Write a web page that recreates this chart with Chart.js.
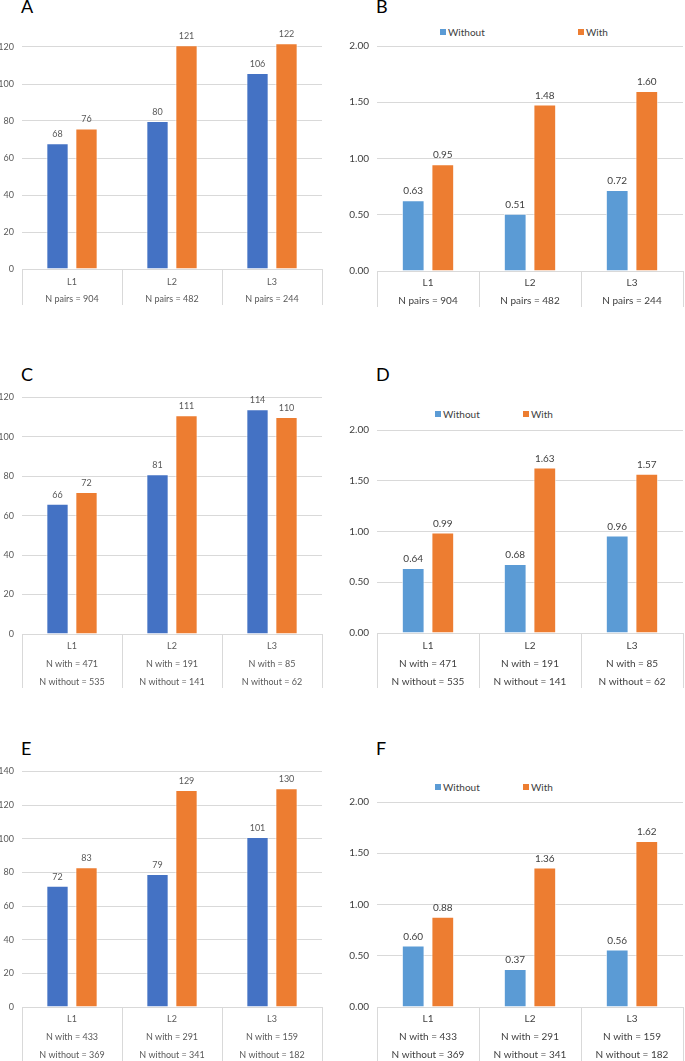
<!DOCTYPE html>
<html>
<head>
<meta charset="utf-8">
<script src="https://cdn.jsdelivr.net/npm/chart.js@4.4.1/dist/chart.umd.min.js"></script>
<style>
  body { margin: 0; background: #fff; }
  #page { position: relative; width: 685px; height: 1061px; overflow: hidden; font-family: Lato, "Open Sans", sans-serif; }
  canvas { position: absolute; }
  .letter { position: absolute; font-size: 18px; line-height: 18px; color: #000; }
  .legend { position: absolute; font-size: 10px; line-height: 12px; color: #404040; white-space: nowrap; }
  .legend i { display: inline-block; width: 6px; height: 6px; margin-right: 2px; vertical-align: 1px; }
</style>
</head>
<body>
<div id="page">
  <div class="letter" style="left:21px;top:-3px">A</div>
  <div class="letter" style="left:376px;top:-3px">B</div>
  <div class="letter" style="left:21px;top:365px">C</div>
  <div class="letter" style="left:376px;top:365px">D</div>
  <div class="letter" style="left:21px;top:739px">E</div>
  <div class="letter" style="left:376px;top:739px">F</div>

  <div class="legend" style="left:440px;top:26px"><i style="background:#5B9BD5"></i>Without</div>
  <div class="legend" style="left:578px;top:26px"><i style="background:#ED7D31"></i>With</div>
  <div class="legend" style="left:435px;top:408px"><i style="background:#5B9BD5"></i>Without</div>
  <div class="legend" style="left:523px;top:408px"><i style="background:#ED7D31"></i>With</div>
  <div class="legend" style="left:435px;top:781px"><i style="background:#5B9BD5"></i>Without</div>
  <div class="legend" style="left:523px;top:781px"><i style="background:#ED7D31"></i>With</div>

  <canvas id="chartA"></canvas>
  <canvas id="chartB"></canvas>
  <canvas id="chartC"></canvas>
  <canvas id="chartD"></canvas>
  <canvas id="chartE"></canvas>
  <canvas id="chartF"></canvas>
</div>

<script>
// categories and sample sizes
const categories = ['L1', 'L2', 'L3'];
const nPairs = [904, 482, 244];
const nWithCD = [471, 191, 85];
const nWithoutCD = [535, 141, 62];
const nWithEF = [433, 291, 159];
const nWithoutEF = [369, 341, 182];

// values
const aWithout = [68, 80, 106];
const aWith = [76, 121, 122];
const bWithout = [0.63, 0.51, 0.72];
const bWith = [0.95, 1.48, 1.60];
const cWithout = [66, 81, 114];
const cWith = [72, 111, 110];
const dWithout = [0.64, 0.68, 0.96];
const dWith = [0.99, 1.63, 1.57];
const eWithout = [72, 79, 101];
const eWith = [83, 129, 130];
const fWithout = [0.60, 0.37, 0.56];
const fWith = [0.88, 1.36, 1.62];

const FONT = 'Lato, "Open Sans", sans-serif';
const GRID = '#d9d9d9';

// labels like ['L1', 'N pairs = 904']
function pairLabels() {
    return categories.map((c, i) => [c, 'N pairs = ' + nPairs[i]]);
}
function withLabels(nWith, nWithout) {
    return categories.map((c, i) => [c, 'N with = ' + nWith[i], 'N without = ' + nWithout[i]]);
}

// draws the number above each bar
const valueLabels = {
    id: 'valueLabels',
    afterDatasetsDraw(chart, args, opts) {
        const ctx = chart.ctx;
        ctx.save();
        ctx.font = opts.size + 'px ' + FONT;
        ctx.fillStyle = opts.color;
        ctx.textAlign = 'center';
        ctx.textBaseline = 'middle';
        chart.data.datasets.forEach((ds, i) => {
            chart.getDatasetMeta(i).data.forEach((bar, j) => {
                ctx.fillText(ds.data[j].toFixed(opts.decimals), bar.x, bar.y - 9);
            });
        });
        ctx.restore();
    }
};

function makeChart(p) {
    const canvas = document.getElementById(p.id);
    const w = p.canvasRight - p.canvasLeft;
    const xAxisH = p.tickLen + 2;
    const h = p.plotBottom - p.canvasTop + xAxisH;
    canvas.width = w;
    canvas.height = h;
    canvas.style.left = p.canvasLeft + 'px';
    canvas.style.top = p.canvasTop + 'px';

    const topPx = p.plotBottom - p.max * p.pxPerUnit;

    return new Chart(canvas, {
        type: 'bar',
        data: {
            labels: p.labels,
            datasets: [
                { label: 'Without', data: p.without, backgroundColor: p.blue, borderColor: 'rgba(255,255,255,0.7)', borderWidth: 1 },
                { label: 'With', data: p.with, backgroundColor: '#ED7D31', borderColor: 'rgba(255,255,255,0.7)', borderWidth: 1 }
            ]
        },
        options: {
            responsive: false,
            animation: false,
            categoryPercentage: 0.58,
            barPercentage: 0.77,
            layout: {
                padding: { left: 0, right: p.canvasRight - p.plotRight, top: topPx - p.canvasTop, bottom: 0 }
            },
            plugins: {
                legend: { display: false },
                tooltip: { enabled: false },
                valueLabels: { size: p.fontSize, color: p.textColor, decimals: p.decimals }
            },
            scales: {
                x: {
                    afterFit(s) { s.height = xAxisH; },
                    grid: { offset: true, drawOnChartArea: false, drawTicks: true, tickLength: p.tickLen, color: GRID },
                    border: { color: GRID },
                    ticks: {
                        color: p.textColor,
                        maxRotation: 0,
                        autoSkip: false,
                        padding: p.firstLine - p.lineGap / 2 - p.tickLen,
                        font: { family: FONT, size: p.fontSize, lineHeight: p.lineGap / p.fontSize }
                    }
                },
                y: {
                    min: 0,
                    max: p.max,
                    bounds: 'data',
                    afterFit(s) { s.width = p.plotLeft - p.canvasLeft; },
                    // keep only the round steps (no tick or gridline at an odd max)
                    afterBuildTicks(s) {
                        s.ticks = s.ticks.filter(t => Math.abs(t.value / p.step - Math.round(t.value / p.step)) < 1e-6);
                    },
                    grid: { color: GRID, drawTicks: false },
                    border: { display: false },
                    ticks: {
                        stepSize: p.step,
                        padding: 8,
                        color: p.textColor,
                        font: { family: FONT, size: p.fontSize },
                        callback: v => v.toFixed(p.decimals)
                    }
                }
            }
        },
        plugins: [valueLabels]
    });
}

const countStyle = { blue: '#4472C4', decimals: 0, step: 20, fontSize: 9, textColor: '#595959' };
const ratioStyle = { blue: '#5B9BD5', decimals: 2, step: 0.5, fontSize: 10, textColor: '#404040', max: 2 };

makeChart(Object.assign({}, countStyle, {
    id: 'chartA', labels: pairLabels(), without: aWithout, with: aWith,
    canvasLeft: 0, canvasRight: 340, canvasTop: 0,
    plotLeft: 22, plotRight: 322, plotBottom: 269, pxPerUnit: 37 / 20, max: 130,
    tickLen: 36, firstLine: 13, lineGap: 17
}));
makeChart(Object.assign({}, ratioStyle, {
    id: 'chartB', labels: pairLabels(), without: bWithout, with: bWith,
    canvasLeft: 340, canvasRight: 685, canvasTop: 20,
    plotLeft: 377, plotRight: 683, plotBottom: 271, pxPerUnit: 225 / 2,
    tickLen: 36, firstLine: 12, lineGap: 18
}));
makeChart(Object.assign({}, countStyle, {
    id: 'chartC', labels: withLabels(nWithCD, nWithoutCD), without: cWithout, with: cWith,
    canvasLeft: 0, canvasRight: 340, canvasTop: 384,
    plotLeft: 22, plotRight: 322, plotBottom: 634, pxPerUnit: 2, max: 120,
    tickLen: 54, firstLine: 12, lineGap: 18
}));
makeChart(Object.assign({}, ratioStyle, {
    id: 'chartD', labels: withLabels(nWithCD, nWithoutCD), without: dWithout, with: dWith,
    canvasLeft: 340, canvasRight: 685, canvasTop: 416,
    plotLeft: 377, plotRight: 683, plotBottom: 633, pxPerUnit: 212 / 2,
    tickLen: 55, firstLine: 13, lineGap: 18
}));
makeChart(Object.assign({}, countStyle, {
    id: 'chartE', labels: withLabels(nWithEF, nWithoutEF), without: eWithout, with: eWith,
    canvasLeft: 0, canvasRight: 340, canvasTop: 758,
    plotLeft: 22, plotRight: 322, plotBottom: 1007, pxPerUnit: 239 / 140, max: 140,
    tickLen: 54, firstLine: 12, lineGap: 18
}));
makeChart(Object.assign({}, ratioStyle, {
    id: 'chartF', labels: withLabels(nWithEF, nWithoutEF), without: fWithout, with: fWith,
    canvasLeft: 340, canvasRight: 685, canvasTop: 788,
    plotLeft: 377, plotRight: 683, plotBottom: 1007, pxPerUnit: 214 / 2,
    tickLen: 54, firstLine: 12, lineGap: 18
}));
</script>
</body>
</html>
